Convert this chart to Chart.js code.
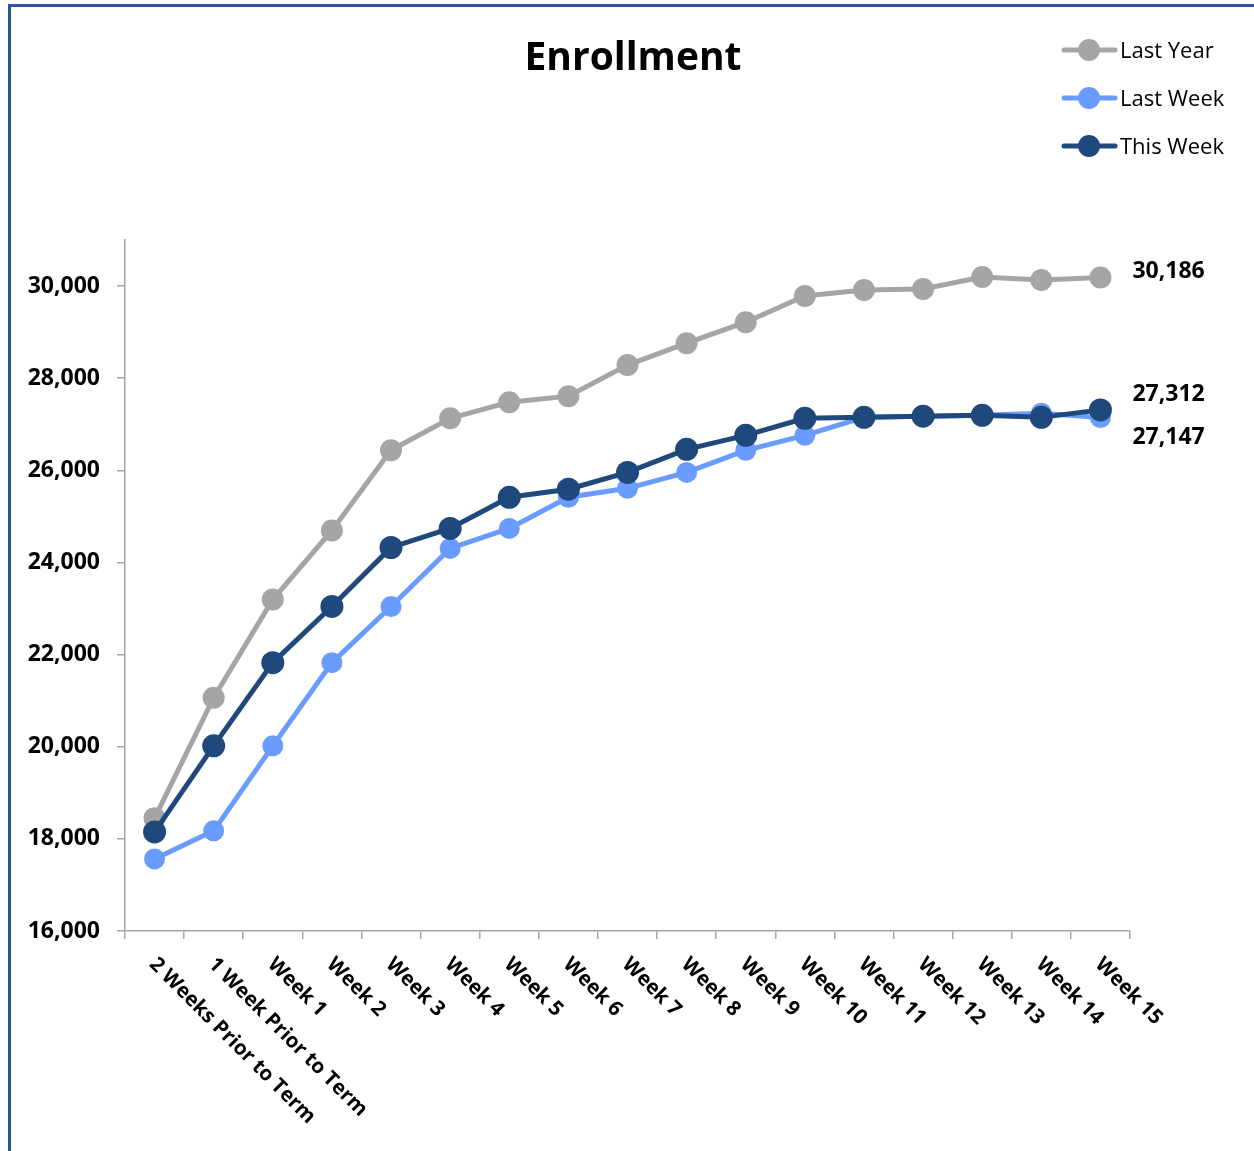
<!DOCTYPE html>
<html>
<head>
<meta charset="utf-8">
<script src="https://cdn.jsdelivr.net/npm/chart.js@4"></script>
<style>
  html, body { margin: 0; padding: 0; background: #fff; }
  #wrap { position: relative; width: 1254px; height: 1151px; }
  #frame {
    position: absolute; left: 8px; top: 4px; right: -10px; bottom: -10px;
    border-left: 3px solid #2E5597; border-top: 3px solid #2E5597;
    pointer-events: none;
  }
  canvas { position: absolute; left: 0; top: 0; }
</style>
</head>
<body>
<div id="wrap">
  <canvas id="enrollChart"></canvas>
  <div id="frame"></div>
</div>
<script>
// Chart data
const categories = [
  "2 Weeks Prior to Term", "1 Week Prior to Term", "Week 1", "Week 2", "Week 3",
  "Week 4", "Week 5", "Week 6", "Week 7", "Week 8", "Week 9", "Week 10",
  "Week 11", "Week 12", "Week 13", "Week 14", "Week 15",
];
const lastYear = [18450, 21065, 23195, 24695, 26435, 27130, 27480, 27610, 28285, 28760, 29215, 29785, 29915, 29935, 30195, 30130, 30186];
const lastWeek = [17565, 18175, 20020, 21825, 23045, 24305, 24740, 25415, 25610, 25955, 26435, 26760, 27150, 27175, 27195, 27240, 27147];
const thisWeek = [18150, 20020, 21825, 23045, 24325, 24740, 25415, 25590, 25955, 26455, 26760, 27130, 27150, 27175, 27195, 27150, 27312];
const yTicks = [16000, 18000, 20000, 22000, 24000, 26000, 28000, 30000];

const GRAY = "#A5A5A5";
const LIGHT = "#6A9CFF";
const NAVY = "#1F497D";
const AXIS = "#A6A6A6";
const FONT = "'Open Sans', 'DejaVu Sans', sans-serif";

const fmt = (v) => v.toLocaleString("en-US");

Chart.defaults.font.family = FONT;
Chart.defaults.color = "#000";

// Title, legend, rotated category labels, end-of-line value labels
const decorPlugin = {
  id: "decor",
  afterDraw(chart) {
    const ctx = chart.ctx;
    const xScale = chart.scales.x;
    ctx.save();

    // title
    ctx.fillStyle = "#000";
    ctx.font = `bold 39px ${FONT}`;
    ctx.textAlign = "center";
    ctx.textBaseline = "alphabetic";
    ctx.fillText("Enrollment", 633, 70);

    // legend (vertical, top right)
    ctx.font = `22px ${FONT}`;
    ctx.textAlign = "left";
    chart.data.datasets.forEach((ds, i) => {
      const y = 50 + i * 48;
      ctx.strokeStyle = ds.borderColor;
      ctx.lineWidth = 5;
      ctx.lineCap = "round";
      ctx.beginPath();
      ctx.moveTo(1064, y);
      ctx.lineTo(1115, y);
      ctx.stroke();
      ctx.fillStyle = ds.borderColor;
      ctx.beginPath();
      ctx.arc(1089, y, 11, 0, Math.PI * 2);
      ctx.fill();
      ctx.fillStyle = "#000";
      ctx.fillText(ds.label, 1120, y + 8);
    });

    // category labels rotated 45deg clockwise
    ctx.font = `bold 20.5px ${FONT}`;
    ctx.textBaseline = "middle";
    ctx.textAlign = "left";
    categories.forEach((label, i) => {
      const x = xScale.getPixelForValue(i);
      ctx.save();
      ctx.translate(x - 2, xScale.top + 30);
      ctx.rotate(Math.PI / 4);
      ctx.fillText(label, 0, 0);
      ctx.restore();
    });

    // value labels at the last point of each line
    ctx.font = `bold 23px ${FONT}`;
    ctx.textBaseline = "middle";
    chart.data.datasets.forEach((ds, i) => {
      const meta = chart.getDatasetMeta(i);
      const last = meta.data[meta.data.length - 1];
      const value = ds.data[ds.data.length - 1];
      ctx.fillText(fmt(value), last.x + 32, last.y + ds.labelDy);
    });

    ctx.restore();
  },
};

function makeDataset(label, data, color, radius, order, labelDy) {
  return {
    label,
    data,
    borderColor: color,
    backgroundColor: color,
    pointBackgroundColor: color,
    pointBorderColor: color,
    borderWidth: 5,
    pointRadius: radius,
    pointHoverRadius: radius,
    pointBorderWidth: 0,
    tension: 0,
    order,
    labelDy,
  };
}

document.addEventListener("DOMContentLoaded", () => {
  const ctx = document.getElementById("enrollChart").getContext("2d");
  new Chart(ctx, {
    type: "line",
    data: {
      labels: categories,
      datasets: [
        makeDataset("Last Year", lastYear, GRAY, 11, 3, -6),
        makeDataset("Last Week", lastWeek, LIGHT, 10.5, 2, 20),
        makeDataset("This Week", thisWeek, NAVY, 11.5, 1, -15),
      ],
    },
    options: {
      responsive: true,
      maintainAspectRatio: false,
      animation: false,
      layout: { padding: { top: 240, right: 124, left: 0, bottom: 0 } },
      plugins: {
        legend: { display: false },
        title: { display: false },
        tooltip: { enabled: false },
      },
      scales: {
        x: {
          type: "category",
          offset: true,
          border: { display: true, color: AXIS, width: 1.5 },
          grid: {
            display: true,
            offset: true,
            drawOnChartArea: false,
            drawTicks: true,
            tickLength: 8,
            color: AXIS,
            lineWidth: 1.5,
          },
          ticks: { display: false },
          afterFit(scale) {
            scale.height = 220;
          },
        },
        y: {
          min: 16000,
          max: 31000,
          border: { display: true, color: AXIS, width: 1.5 },
          grid: {
            drawOnChartArea: false,
            drawTicks: true,
            tickLength: 8,
            color: AXIS,
            lineWidth: 1.5,
          },
          afterBuildTicks(scale) {
            scale.ticks = yTicks.map((v) => ({ value: v }));
          },
          ticks: {
            padding: 17,
            font: { size: 23, weight: "bold" },
            color: "#000",
            callback: (v) => fmt(v),
          },
          afterFit(scale) {
            scale.width = 125;
          },
        },
      },
    },
    plugins: [decorPlugin],
  });
});
</script>
</body>
</html>
